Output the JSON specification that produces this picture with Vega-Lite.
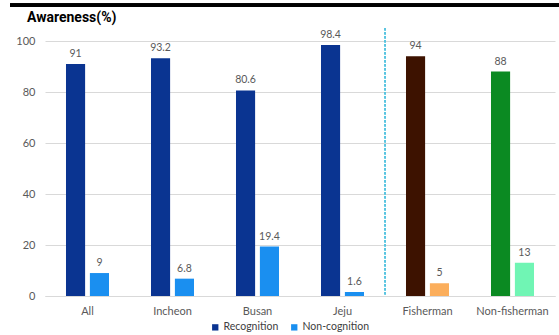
{
  "$schema": "https://vega.github.io/schema/vega-lite/v6.json",
  "width": 510,
  "height": 255,
  "autosize": {"type": "none"},
  "padding": {"left": 45, "top": 41, "right": 4, "bottom": 39},
  "background": "white",
  "title": {
    "text": "Awareness(%)",
    "anchor": "start",
    "frame": "group",
    "dx": -18,
    "dy": 21,
    "offset": 0,
    "fontSize": 14,
    "font": "Roboto",
    "fontWeight": "bold",
    "color": "#000000"
  },
  "data": {
    "values": [
      {"group": "All", "series": "Recognition", "shade": "Recognition", "value": 91},
      {"group": "All", "series": "Non-cognition", "shade": "Non-cognition", "value": 9},
      {"group": "Incheon", "series": "Recognition", "shade": "Recognition", "value": 93.2},
      {"group": "Incheon", "series": "Non-cognition", "shade": "Non-cognition", "value": 6.8},
      {"group": "Busan", "series": "Recognition", "shade": "Recognition", "value": 80.6},
      {"group": "Busan", "series": "Non-cognition", "shade": "Non-cognition", "value": 19.4},
      {"group": "Jeju", "series": "Recognition", "shade": "Recognition", "value": 98.4},
      {"group": "Jeju", "series": "Non-cognition", "shade": "Non-cognition", "value": 1.6},
      {"group": "Fisherman", "series": "Recognition", "shade": "Fisherman Recognition", "value": 94},
      {"group": "Fisherman", "series": "Non-cognition", "shade": "Fisherman Non-cognition", "value": 5},
      {"group": "Non-fisherman", "series": "Recognition", "shade": "Non-fisherman Recognition", "value": 88},
      {"group": "Non-fisherman", "series": "Non-cognition", "shade": "Non-fisherman Non-cognition", "value": 13}
    ]
  },
  "config": {
    "font": "Lato",
    "view": {"stroke": null}
  },
  "layer": [
    {
      "mark": {"type": "bar"},
      "encoding": {
        "x": {
          "field": "group",
          "type": "nominal",
          "sort": null,
          "scale": {
            "domain": ["All", "Incheon", "Busan", "Jeju", "Fisherman", "Non-fisherman"],
            "paddingInner": 0.494,
            "paddingOuter": 0.247
          },
          "axis": {
            "title": null,
            "labelAngle": 0,
            "ticks": false,
            "domain": true,
            "domainColor": "#d9d9d9",
            "labelColor": "#595959",
            "labelFontSize": 11,
            "labelPadding": 9
          }
        },
        "xOffset": {
          "field": "series",
          "type": "nominal",
          "sort": ["Recognition", "Non-cognition"],
          "scale": {"paddingInner": 0.2, "paddingOuter": 0}
        },
        "y": {
          "field": "value",
          "type": "quantitative",
          "scale": {"domain": [0, 100], "nice": false},
          "axis": {
            "title": null,
            "values": [0, 20, 40, 60, 80, 100],
            "domain": false,
            "ticks": false,
            "gridColor": "#d9d9d9",
            "labelColor": "#595959",
            "labelFontSize": 11,
            "labelPadding": 10
          }
        },
        "color": {
          "field": "shade",
          "type": "nominal",
          "scale": {
            "domain": ["Recognition", "Non-cognition", "Fisherman Recognition", "Fisherman Non-cognition", "Non-fisherman Recognition", "Non-fisherman Non-cognition"],
            "range": ["#0a3491", "#1a8ff0", "#3d1200", "#fbae5c", "#0b8a22", "#70f5b4"]
          },
          "legend": {
            "title": null,
            "values": ["Recognition", "Non-cognition"],
            "orient": "none",
            "direction": "horizontal",
            "legendX": 165,
            "legendY": 281,
            "symbolType": "square",
            "symbolSize": 40,
            "labelFontSize": 10.5,
            "labelColor": "#404040",
            "columnPadding": 10,
            "labelOffset": 3
          }
        }
      }
    },
    {
      "mark": {"type": "rule", "color": "#000000", "strokeWidth": 3},
      "encoding": {
        "x": {"datum": "All", "bandPosition": -1.3},
        "x2": {"datum": "Non-fisherman", "bandPosition": 1.58},
        "y": {"datum": 114}
      }
    },
    {
      "mark": {"type": "rule", "color": "#5bc4e0", "strokeWidth": 1, "strokeDash": [2, 2]},
      "encoding": {
        "x": {"datum": "Jeju", "bandPosition": 1.49},
        "y": {"datum": 105},
        "y2": {"datum": 0}
      }
    },
    {
      "mark": {"type": "text", "baseline": "bottom", "dy": -5, "fontSize": 10.5, "color": "#595959"},
      "encoding": {
        "x": {"field": "group", "type": "nominal", "sort": null},
        "xOffset": {"field": "series", "type": "nominal", "sort": ["Recognition", "Non-cognition"]},
        "y": {"field": "value", "type": "quantitative"},
        "text": {"field": "value", "type": "quantitative"}
      }
    }
  ]
}
